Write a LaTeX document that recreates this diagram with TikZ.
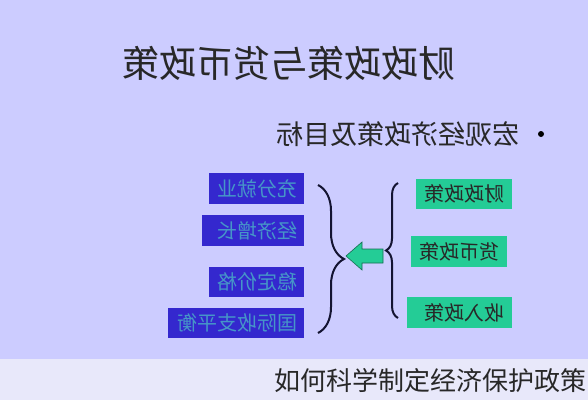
\documentclass[tikz,border=0pt]{standalone}
\usepackage{fontspec}
\setmainfont{Noto Sans CJK SC}
\usetikzlibrary{positioning,decorations.pathreplacing}

\definecolor{slidebg}{RGB}{204,204,255}
\definecolor{stripbg}{RGB}{232,232,250}
\definecolor{goalblue}{RGB}{52,40,206}
\definecolor{goaltext}{RGB}{70,150,200}
\definecolor{toolgreen}{RGB}{36,204,150}
\definecolor{toolline}{RGB}{20,110,80}
\definecolor{bracecol}{RGB}{20,20,50}
\definecolor{inkgray}{RGB}{40,40,40}

\tikzset{
  goalbox/.style={fill=goalblue, text=goaltext, anchor=north west, inner xsep=6pt,
    inner ysep=0pt, align=left, font=\fontsize{20}{22}\selectfont},
  toolbox/.style={fill=toolgreen, text=inkgray, anchor=north west, inner xsep=7pt,
    inner ysep=0pt, align=left, font=\fontsize{20}{22}\selectfont},
  bigbrace/.style={draw=bracecol, line width=2pt, decorate,
    decoration={brace, mirror, amplitude=#1}},
}

\begin{document}
\begin{tikzpicture}[x=1pt,y=-1pt]
  \fill[slidebg] (0,0) rectangle (588,359);
  \fill[stripbg] (0,359) rectangle (588,400);
  \node[anchor=east, inner sep=0pt, text=inkgray, font=\fontsize{26}{28}\selectfont]
    (caption) at (587,381) {如何科学制定经济保护政策};

  % the slide itself is shown mirrored
  \begin{scope}[xshift=588pt, xscale=-1, transform shape]
    \node[text=inkgray, font=\fontsize{37}{40}\selectfont] (title) at (299,63) {财政政策与货币政策};
    \node[circle, fill=black, inner sep=0pt, minimum size=6pt] (dot) at (47,134) {};
    \node[anchor=west, inner sep=0pt, text=inkgray, font=\fontsize{27}{30}\selectfont]
      (topic) at (68,134) {宏观经济政策及目标};

    \node[toolbox, text width=82pt, minimum height=30pt] (fiscal) at (76,179) {财政政策};
    \node[toolbox, text width=82pt, minimum height=31pt] (monetary) at (81,236) {货币政策};
    \node[toolbox, text width=91pt, minimum height=31pt] (income) at (76,297) {收入政策};

    \node[goalbox, text width=83pt, minimum height=31pt] (employ) at (284,173) {充分就业};
    \node[goalbox, text width=90pt, minimum height=31pt] (growth) at (284,215) {经济增长};
    \node[goalbox, text width=83pt, minimum height=30pt] (price) at (284,267) {稳定价格};
    \node[goalbox, text width=124pt, minimum height=30pt] (balance) at (284,308) {国际收支平衡};

    \draw[bigbrace=12pt] (190,183) -- (190,318);
    \draw[bigbrace=26pt] (270,333) -- (270,185);

    \coordinate (tail) at (205,256);
    \coordinate (head) at (242,256);
    \draw[fill=toolgreen, draw=toolline, line width=0.6pt]
      (205,249) -- (226,249) -- (226,242) -- (head) -- (226,270)
      -- (226,263) -- (205,263) -- cycle;
  \end{scope}
\end{tikzpicture}
\end{document}
